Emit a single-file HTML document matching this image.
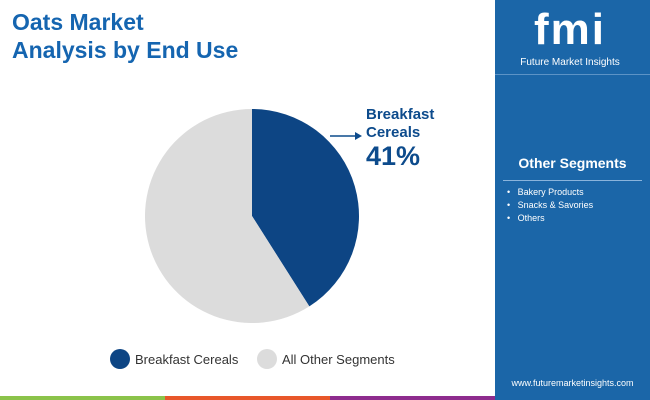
<!DOCTYPE html>
<html><head><meta charset="utf-8"><style>
body{margin:0;width:650px;height:400px;overflow:hidden;background:#fff;font-family:"Liberation Sans",sans-serif;position:relative}
.abs{position:absolute}
</style></head><body>
<div class="abs" style="left:12px;top:8px;font-size:23px;font-weight:bold;color:#1565b0;line-height:28px">Oats Market<br>Analysis by End Use</div>
<div class="abs" style="left:495px;top:0;width:155px;height:400px;background:#1b66a8"></div>
<div class="abs" style="left:495px;top:0;width:155px;height:74px;border-bottom:1px solid #5c93c6"></div>
<div class="abs" style="left:515px;top:6px;width:110px;text-align:center;color:#fff;font-size:44px;font-weight:bold;line-height:48px;letter-spacing:2px">fmi</div>
<div class="abs" style="left:505px;top:57px;width:130px;text-align:center;color:#fff;font-size:10px">Future Market Insights</div>
<div class="abs" style="left:495px;top:155px;width:155px;text-align:center;color:#fff;font-size:14px;font-weight:bold">Other Segments</div>
<div class="abs" style="left:503px;top:180px;width:139px;height:1px;background:#8ab4dc"></div>
<div class="abs" style="left:507px;top:186px;color:#fff;font-size:9px;line-height:13px">•&nbsp;&nbsp;&nbsp;Bakery Products<br>•&nbsp;&nbsp;&nbsp;Snacks &amp; Savories<br>•&nbsp;&nbsp;&nbsp;Others</div>
<div class="abs" style="left:495px;top:378px;width:155px;text-align:center;color:#fff;font-size:9px">www.futuremarketinsights.com</div>
<div class="abs" style="left:0;top:396px;width:165px;height:4px;background:#8bc34a"></div>
<div class="abs" style="left:165px;top:396px;width:165px;height:4px;background:#e8572a"></div>
<div class="abs" style="left:330px;top:396px;width:165px;height:4px;background:#8e2c8e"></div>
<svg class="abs" style="left:0;top:0" width="495" height="400">
<g id="pie"></g>
<line x1="330" y1="136" x2="358" y2="136" stroke="#0d4b8c" stroke-width="1.5"/>
<polygon points="362,136 355,132 355,140" fill="#0d4b8c"/>
<text x="366" y="119" font-size="15" font-weight="bold" fill="#0d4b8c">Breakfast</text>
<text x="366" y="137" font-size="15" font-weight="bold" fill="#0d4b8c">Cereals</text>
<text x="366" y="165" font-size="27" font-weight="bold" fill="#0d4b8c">41%</text>
<circle cx="120" cy="359" r="10" fill="#0d4584"/>
<text x="135" y="364" font-size="13" fill="#333">Breakfast Cereals</text>
<circle cx="267" cy="359" r="10" fill="#dcdcdc"/>
<text x="282" y="364" font-size="13" fill="#333">All Other Segments</text>
</svg>
<script>
const categories=["Breakfast Cereals","All Other Segments"];
const values=[41,59];
const colors=["#0d4584","#dcdcdc"];
const cx=252,cy=216,r=107;
const g=document.getElementById('pie');
const total=values.reduce((a,b)=>a+b,0);
let a0=-Math.PI/2;
values.forEach((v,i)=>{
 const a1=a0+v/total*2*Math.PI;
 const large=(a1-a0)>Math.PI?1:0;
 const p=document.createElementNS('http://www.w3.org/2000/svg','path');
 p.setAttribute('d',`M${cx},${cy} L${cx+r*Math.cos(a0)},${cy+r*Math.sin(a0)} A${r},${r} 0 ${large} 1 ${cx+r*Math.cos(a1)},${cy+r*Math.sin(a1)} Z`);
 p.setAttribute('fill',colors[i]);
 
 
 g.appendChild(p);
 a0=a1;
});
</script>
</body></html>
